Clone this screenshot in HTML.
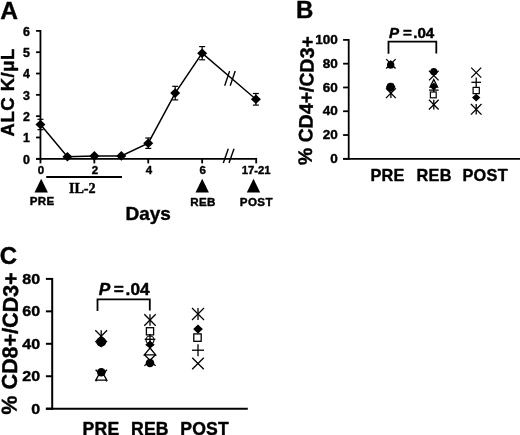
<!DOCTYPE html>
<html><head><meta charset="utf-8"><style>
html,body{margin:0;padding:0;background:#fff;}
svg{display:block;will-change:transform;}
text{font-family:"Liberation Sans",sans-serif;font-weight:bold;fill:#000;stroke:#000;stroke-width:0.4px;stroke-linejoin:round;}
</style></head><body>
<svg width="520" height="435" viewBox="0 0 520 435" stroke="#000" stroke-linecap="butt">
<rect width="520" height="435" fill="#fff" stroke="none"/>
<text x="0.30" y="18.50" font-size="24.6" text-anchor="start" >A</text>
<line x1="40.45" y1="30.00" x2="40.45" y2="159.70" stroke-width="1.8"/>
<line x1="36.05" y1="158.80" x2="40.45" y2="158.80" stroke-width="1.8"/>
<text x="30.00" y="163.70" font-size="12.4" text-anchor="end" >0</text>
<line x1="36.05" y1="137.48" x2="40.45" y2="137.48" stroke-width="1.8"/>
<text x="30.00" y="142.38" font-size="12.4" text-anchor="end" >1</text>
<line x1="36.05" y1="116.16" x2="40.45" y2="116.16" stroke-width="1.8"/>
<text x="30.00" y="121.06" font-size="12.4" text-anchor="end" >2</text>
<line x1="36.05" y1="94.84" x2="40.45" y2="94.84" stroke-width="1.8"/>
<text x="30.00" y="99.74" font-size="12.4" text-anchor="end" >3</text>
<line x1="36.05" y1="73.52" x2="40.45" y2="73.52" stroke-width="1.8"/>
<text x="30.00" y="78.42" font-size="12.4" text-anchor="end" >4</text>
<line x1="36.05" y1="52.20" x2="40.45" y2="52.20" stroke-width="1.8"/>
<text x="30.00" y="57.10" font-size="12.4" text-anchor="end" >5</text>
<line x1="36.05" y1="30.88" x2="40.45" y2="30.88" stroke-width="1.8"/>
<text x="30.00" y="35.78" font-size="12.4" text-anchor="end" >6</text>
<text transform="translate(14.0,92.3) rotate(-90)" font-size="18.5" letter-spacing="0.5" text-anchor="middle">ALC K/&#956;L</text>
<line x1="36.05" y1="158.80" x2="256.40" y2="158.80" stroke-width="1.8"/>
<line x1="40.45" y1="158.80" x2="40.45" y2="163.40" stroke-width="1.8"/>
<text x="41.05" y="173.90" font-size="11.5" text-anchor="middle" >0</text>
<line x1="94.35" y1="158.80" x2="94.35" y2="163.40" stroke-width="1.8"/>
<text x="94.95" y="173.90" font-size="11.5" text-anchor="middle" >2</text>
<line x1="148.25" y1="158.80" x2="148.25" y2="163.40" stroke-width="1.8"/>
<text x="148.85" y="173.90" font-size="11.5" text-anchor="middle" >4</text>
<line x1="202.15" y1="158.80" x2="202.15" y2="163.40" stroke-width="1.8"/>
<text x="202.75" y="173.90" font-size="11.5" text-anchor="middle" >6</text>
<line x1="256.20" y1="157.90" x2="256.20" y2="163.40" stroke-width="1.8"/>
<text x="256.20" y="173.90" font-size="11.3" text-anchor="middle" >17-21</text>
<line x1="223.30" y1="162.90" x2="228.30" y2="148.80" stroke-width="1.4"/>
<line x1="229.00" y1="162.90" x2="234.00" y2="148.80" stroke-width="1.4"/>
<polyline fill="none" stroke-width="1.5" points="40.45,124.50 67.40,156.80 94.35,155.90 121.30,155.90 148.25,143.20 175.20,93.10 202.15,53.20 255.90,99.30"/>
<line x1="224.70" y1="85.80" x2="229.60" y2="71.10" stroke-width="1.4"/>
<line x1="230.20" y1="85.80" x2="235.20" y2="71.10" stroke-width="1.4"/>
<line x1="40.45" y1="119.30" x2="40.45" y2="129.70" stroke-width="1.2"/>
<line x1="37.45" y1="119.30" x2="43.45" y2="119.30" stroke-width="1.2"/>
<line x1="37.45" y1="129.70" x2="43.45" y2="129.70" stroke-width="1.2"/>
<path d="M40.45 119.70L45.45 124.50L40.45 129.30L35.45 124.50Z" fill="#000" stroke="none"/>
<path d="M67.40 152.00L72.40 156.80L67.40 161.60L62.40 156.80Z" fill="#000" stroke="none"/>
<path d="M94.35 151.10L99.35 155.90L94.35 160.70L89.35 155.90Z" fill="#000" stroke="none"/>
<path d="M121.30 151.10L126.30 155.90L121.30 160.70L116.30 155.90Z" fill="#000" stroke="none"/>
<line x1="148.25" y1="138.00" x2="148.25" y2="148.40" stroke-width="1.2"/>
<line x1="145.25" y1="138.00" x2="151.25" y2="138.00" stroke-width="1.2"/>
<line x1="145.25" y1="148.40" x2="151.25" y2="148.40" stroke-width="1.2"/>
<path d="M148.25 138.40L153.25 143.20L148.25 148.00L143.25 143.20Z" fill="#000" stroke="none"/>
<line x1="175.20" y1="86.30" x2="175.20" y2="99.90" stroke-width="1.2"/>
<line x1="172.20" y1="86.30" x2="178.20" y2="86.30" stroke-width="1.2"/>
<line x1="172.20" y1="99.90" x2="178.20" y2="99.90" stroke-width="1.2"/>
<path d="M175.20 88.30L180.20 93.10L175.20 97.90L170.20 93.10Z" fill="#000" stroke="none"/>
<line x1="202.15" y1="46.60" x2="202.15" y2="59.80" stroke-width="1.2"/>
<line x1="199.15" y1="46.60" x2="205.15" y2="46.60" stroke-width="1.2"/>
<line x1="199.15" y1="59.80" x2="205.15" y2="59.80" stroke-width="1.2"/>
<path d="M202.15 48.40L207.15 53.20L202.15 58.00L197.15 53.20Z" fill="#000" stroke="none"/>
<line x1="255.90" y1="93.50" x2="255.90" y2="105.10" stroke-width="1.2"/>
<line x1="252.90" y1="93.50" x2="258.90" y2="93.50" stroke-width="1.2"/>
<line x1="252.90" y1="105.10" x2="258.90" y2="105.10" stroke-width="1.2"/>
<path d="M255.90 94.50L260.90 99.30L255.90 104.10L250.90 99.30Z" fill="#000" stroke="none"/>
<path d="M41.20 178.80L47.90 192.40L34.50 192.40Z" fill="#000" stroke="none"/>
<path d="M202.20 178.80L208.90 192.40L195.50 192.40Z" fill="#000" stroke="none"/>
<path d="M253.50 178.80L260.20 192.40L246.80 192.40Z" fill="#000" stroke="none"/>
<text x="42.20" y="205.30" font-size="11.6" text-anchor="middle" letter-spacing="0.4">PRE</text>
<text x="203.00" y="205.80" font-size="11.6" text-anchor="middle" letter-spacing="0.4">REB</text>
<text x="256.40" y="205.80" font-size="11.6" text-anchor="middle" letter-spacing="0.4">POST</text>
<line x1="46.20" y1="177.00" x2="122.00" y2="177.00" stroke-width="1.8"/>
<text x="68.90" y="193.10" font-size="14.2" text-anchor="start" style="font-family:Liberation Serif">IL-2</text>
<text x="125.50" y="219.60" font-size="19" text-anchor="start" >Days</text>
<text x="296.00" y="18.30" font-size="24" text-anchor="start" >B</text>
<line x1="348.70" y1="39.00" x2="348.70" y2="159.70" stroke-width="1.8"/>
<line x1="343.10" y1="158.80" x2="348.70" y2="158.80" stroke-width="1.8"/>
<text transform="translate(337.80,163.00) scale(1.04,1)" font-size="13" text-anchor="end" >0</text>
<line x1="343.10" y1="135.02" x2="348.70" y2="135.02" stroke-width="1.8"/>
<text transform="translate(337.80,139.22) scale(1.04,1)" font-size="13" text-anchor="end" >20</text>
<line x1="343.10" y1="111.24" x2="348.70" y2="111.24" stroke-width="1.8"/>
<text transform="translate(337.80,115.44) scale(1.04,1)" font-size="13" text-anchor="end" >40</text>
<line x1="343.10" y1="87.46" x2="348.70" y2="87.46" stroke-width="1.8"/>
<text transform="translate(337.80,91.66) scale(1.04,1)" font-size="13" text-anchor="end" >60</text>
<line x1="343.10" y1="63.68" x2="348.70" y2="63.68" stroke-width="1.8"/>
<text transform="translate(337.80,67.88) scale(1.04,1)" font-size="13" text-anchor="end" >80</text>
<line x1="343.10" y1="39.90" x2="348.70" y2="39.90" stroke-width="1.8"/>
<text transform="translate(337.80,44.10) scale(1.04,1)" font-size="13" text-anchor="end" >100</text>
<text transform="translate(313.0,100.8) rotate(-89.0)" font-size="19.5" text-anchor="middle">% CD4+/CD3+</text>
<line x1="343.10" y1="158.80" x2="520.00" y2="158.80" stroke-width="1.8"/>
<text x="370.40" y="180.80" font-size="16.3" text-anchor="start" letter-spacing="0.3">PRE</text>
<text x="416.50" y="180.80" font-size="16.3" text-anchor="start" letter-spacing="0.3">REB</text>
<text x="462.40" y="180.80" font-size="16.3" text-anchor="start" letter-spacing="0.3">POST</text>
<path d="M388.5 53.8V41.6H436.3V53.6" fill="none" stroke-width="1.8"/>
<text transform="translate(389.00,37.90) scale(1.08,1)" font-size="14" font-style="italic">P</text>
<text transform="translate(402.90,37.90) scale(1.08,1)" font-size="14" >=</text>
<text transform="translate(413.20,37.90) scale(1.08,1)" font-size="14" >.04</text>
<line x1="386.20" y1="59.10" x2="395.60" y2="68.50" stroke-width="1.3"/>
<line x1="386.20" y1="68.50" x2="395.60" y2="59.10" stroke-width="1.3"/>
<circle cx="390.70" cy="64.90" r="3.70" fill="#000" stroke="none"/>
<path d="M390.70 60.00L394.20 64.40L390.70 68.80L387.20 64.40Z" fill="#000" stroke="none"/>
<line x1="386.00" y1="88.30" x2="395.80" y2="98.10" stroke-width="1.3"/>
<line x1="386.00" y1="98.10" x2="395.80" y2="88.30" stroke-width="1.3"/>
<line x1="390.90" y1="88.30" x2="390.90" y2="98.10" stroke-width="1.3"/>
<path d="M390.70 82.70L395.70 87.00L390.70 91.30L385.70 87.00Z" fill="#000" stroke="none"/>
<rect x="387.40" y="83.70" width="6.60" height="6.60" fill="#000" stroke="none"/>
<circle cx="390.70" cy="87.00" r="4.20" fill="#000" stroke="none"/>
<line x1="428.95" y1="99.75" x2="438.65" y2="109.45" stroke-width="1.3"/>
<line x1="428.95" y1="109.45" x2="438.65" y2="99.75" stroke-width="1.3"/>
<line x1="433.80" y1="99.75" x2="433.80" y2="109.45" stroke-width="1.3"/>
<line x1="429.00" y1="90.10" x2="438.60" y2="90.10" stroke-width="1.3"/>
<line x1="433.80" y1="85.30" x2="433.80" y2="94.90" stroke-width="1.3"/>
<rect x="430.40" y="92.00" width="5.80" height="5.80" fill="#fff" stroke-width="1.2"/>
<path d="M433.80 79.50L437.60 87.10L430.00 87.10Z" fill="#fff" stroke-width="1.3" stroke-linejoin="miter"/>
<path d="M433.80 82.40L437.70 86.60L433.80 90.80L429.90 86.60Z" fill="#000" stroke="none"/>
<line x1="429.00" y1="70.80" x2="438.60" y2="80.40" stroke-width="1.3"/>
<line x1="429.00" y1="80.40" x2="438.60" y2="70.80" stroke-width="1.3"/>
<circle cx="433.80" cy="71.70" r="3.60" fill="#000" stroke="none"/>
<line x1="471.20" y1="67.60" x2="481.20" y2="77.60" stroke-width="1.3"/>
<line x1="471.20" y1="77.60" x2="481.20" y2="67.60" stroke-width="1.3"/>
<line x1="471.40" y1="82.30" x2="481.00" y2="82.30" stroke-width="1.3"/>
<line x1="476.20" y1="77.50" x2="476.20" y2="87.10" stroke-width="1.3"/>
<rect x="473.10" y="87.40" width="6.20" height="6.20" fill="#fff" stroke-width="1.2"/>
<path d="M476.20 93.70L480.40 97.60L476.20 101.50L472.00 97.60Z" fill="#000" stroke="none"/>
<line x1="470.90" y1="104.00" x2="481.50" y2="114.60" stroke-width="1.3"/>
<line x1="470.90" y1="114.60" x2="481.50" y2="104.00" stroke-width="1.3"/>
<line x1="476.20" y1="104.00" x2="476.20" y2="114.60" stroke-width="1.3"/>
<text x="-0.30" y="263.70" font-size="24" text-anchor="start" >C</text>
<line x1="52.20" y1="278.00" x2="52.20" y2="409.70" stroke-width="2.0"/>
<line x1="45.90" y1="408.70" x2="52.20" y2="408.70" stroke-width="2.0"/>
<text transform="translate(40.10,413.60) scale(1.07,1)" font-size="15" text-anchor="end" >0</text>
<line x1="45.90" y1="376.25" x2="52.20" y2="376.25" stroke-width="2.0"/>
<text transform="translate(40.10,381.15) scale(1.07,1)" font-size="15" text-anchor="end" >20</text>
<line x1="45.90" y1="343.80" x2="52.20" y2="343.80" stroke-width="2.0"/>
<text transform="translate(40.10,348.70) scale(1.07,1)" font-size="15" text-anchor="end" >40</text>
<line x1="45.90" y1="311.35" x2="52.20" y2="311.35" stroke-width="2.0"/>
<text transform="translate(40.10,316.25) scale(1.07,1)" font-size="15" text-anchor="end" >60</text>
<line x1="45.90" y1="278.90" x2="52.20" y2="278.90" stroke-width="2.0"/>
<text transform="translate(40.10,283.80) scale(1.07,1)" font-size="15" text-anchor="end" >80</text>
<text transform="translate(17.4,343.6) rotate(-89.3)" font-size="21.5" text-anchor="middle">% CD8+/CD3+</text>
<line x1="45.90" y1="408.70" x2="247.80" y2="408.70" stroke-width="2.0"/>
<text x="82.60" y="434.80" font-size="17.6" text-anchor="start" letter-spacing="0.2">PRE</text>
<text x="131.00" y="434.80" font-size="17.6" text-anchor="start" letter-spacing="0.2">REB</text>
<text x="180.30" y="434.80" font-size="17.6" text-anchor="start" letter-spacing="0.2">POST</text>
<path d="M97.5 311.0V299.3H149.8V310.4" fill="none" stroke-width="1.8"/>
<text transform="translate(98.80,295.40) scale(1.08,1)" font-size="16" font-style="italic">P</text>
<text transform="translate(113.80,295.40) scale(1.08,1)" font-size="16" >=</text>
<text transform="translate(125.60,295.40) scale(1.08,1)" font-size="16" >.04</text>
<line x1="95.30" y1="330.30" x2="107.10" y2="342.10" stroke-width="1.3"/>
<line x1="95.30" y1="342.10" x2="107.10" y2="330.30" stroke-width="1.3"/>
<line x1="101.20" y1="330.30" x2="101.20" y2="342.10" stroke-width="1.3"/>
<path d="M101.20 337.30L106.50 342.40L101.20 347.50L95.90 342.40Z" fill="#000" stroke="none"/>
<circle cx="101.20" cy="341.90" r="4.90" fill="#000" stroke="none"/>
<line x1="95.60" y1="369.80" x2="107.00" y2="381.20" stroke-width="1.3"/>
<line x1="95.60" y1="381.20" x2="107.00" y2="369.80" stroke-width="1.3"/>
<path d="M101.30 370.20L106.80 380.20L95.80 380.20Z" fill="#fff" stroke-width="1.3" stroke-linejoin="miter"/>
<circle cx="101.30" cy="372.30" r="4.30" fill="#000" stroke="none"/>
<line x1="144.30" y1="314.30" x2="155.70" y2="325.70" stroke-width="1.3"/>
<line x1="144.30" y1="325.70" x2="155.70" y2="314.30" stroke-width="1.3"/>
<line x1="150.00" y1="314.30" x2="150.00" y2="325.70" stroke-width="1.3"/>
<rect x="146.40" y="327.70" width="7.20" height="7.20" fill="#fff" stroke-width="1.3"/>
<circle cx="150.00" cy="340.00" r="4.00" fill="none" stroke-width="1.2"/>
<line x1="144.70" y1="339.30" x2="155.30" y2="339.30" stroke-width="1.3"/>
<line x1="150.00" y1="334.00" x2="150.00" y2="344.60" stroke-width="1.3"/>
<path d="M150.00 340.60L154.70 344.70L150.00 348.80L145.30 344.70Z" fill="#000" stroke="none"/>
<line x1="144.40" y1="354.70" x2="155.60" y2="365.90" stroke-width="1.3"/>
<line x1="144.40" y1="365.90" x2="155.60" y2="354.70" stroke-width="1.3"/>
<path d="M150.00 348.00L155.65 354.80L144.35 354.80Z" fill="#fff" stroke-width="1.3" stroke-linejoin="miter"/>
<circle cx="150.00" cy="363.00" r="4.30" fill="#000" stroke="none"/>
<line x1="192.00" y1="308.00" x2="204.00" y2="320.00" stroke-width="1.3"/>
<line x1="192.00" y1="320.00" x2="204.00" y2="308.00" stroke-width="1.3"/>
<line x1="198.00" y1="308.00" x2="198.00" y2="320.00" stroke-width="1.3"/>
<path d="M198.00 324.50L202.80 329.10L198.00 333.70L193.20 329.10Z" fill="#000" stroke="none"/>
<rect x="193.80" y="333.90" width="7.40" height="7.40" fill="#fff" stroke-width="1.3"/>
<line x1="192.00" y1="350.20" x2="204.00" y2="350.20" stroke-width="1.3"/>
<line x1="198.00" y1="344.20" x2="198.00" y2="356.20" stroke-width="1.3"/>
<line x1="192.20" y1="357.70" x2="203.80" y2="369.30" stroke-width="1.3"/>
<line x1="192.20" y1="369.30" x2="203.80" y2="357.70" stroke-width="1.3"/>
</svg>
</body></html>
